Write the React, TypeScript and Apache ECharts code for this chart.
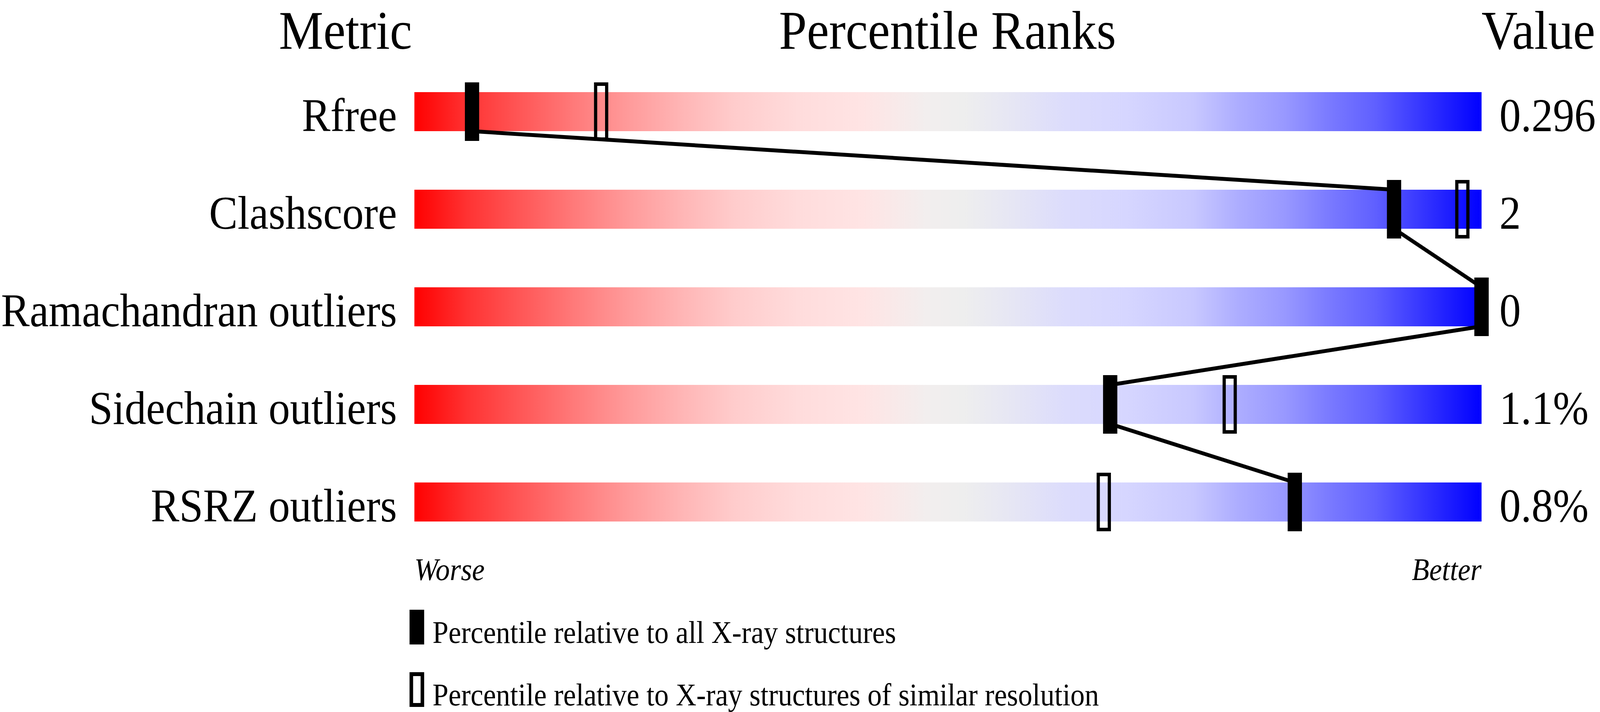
import React, { useEffect, useRef } from 'react';
import * as echarts from 'echarts';

const metrics = ['Rfree', 'Clashscore', 'Ramachandran outliers', 'Sidechain outliers', 'RSRZ outliers'];
const valueLabels = ['0.296', '2', '0', '1.1%', '0.8%'];
const absolutePercentiles = [5.4, 91.8, 100, 65.2, 82.5];
const relativePercentiles = [17.5, 98.2, 100, 76.4, 64.6];
const fullScale = [100, 100, 100, 100, 100];
const headerTexts = ['Metric', 'Percentile Ranks', 'Value'];
const scaleEnds = ['Worse', 'Better'];
const legendNames = [
  'Percentile relative to all X-ray structures',
  'Percentile relative to X-ray structures of similar resolution',
];
const gradientStops: [number, string][] = [
  [0.0, '#ff0000'],
  [0.05, '#ff3333'],
  [0.09, '#ff5050'],
  [0.15, '#ff7a7a'],
  [0.2, '#ff9a9a'],
  [0.25, '#ffb5b5'],
  [0.3, '#ffcccc'],
  [0.36, '#ffdcdc'],
  [0.42, '#ffe4e4'],
  [0.48, '#f2eeee'],
  [0.515, '#eeeeee'],
  [0.56, '#e6e6f4'],
  [0.61, '#dcdcfc'],
  [0.667, '#d6d6ff'],
  [0.73, '#c8c8ff'],
  [0.77, '#aeaeff'],
  [0.816, '#9898ff'],
  [0.86, '#7878ff'],
  [0.9, '#6060ff'],
  [0.95, '#3030ff'],
  [1.0, '#0000ff'],
];

const SERIF = "'Liberation Serif', 'Times New Roman', serif";
const BAR_THICK = 100;
const DESIGN_W = 4485;
const DESIGN_H = 1824;

export default function App() {
  const ref = useRef<HTMLDivElement>(null);
  const vw = typeof window !== 'undefined' ? window.innerWidth : DESIGN_W;
  const vh = typeof window !== 'undefined' ? window.innerHeight : DESIGN_H;
  const sx = vw / DESIGN_W;
  const sy = vh / DESIGN_H;

  useEffect(() => {
    if (!ref.current) return;
    const chart = echarts.init(ref.current, undefined, { renderer: 'svg' });
    const headerFont = `140px ${SERIF}`;
    const legendFont = `80px ${SERIF}`;
    const option: any = {
      animation: false,
      backgroundColor: '#ffffff',
      grid: { left: 1153, right: 332, top: 161, bottom: 413, containLabel: false },
      xAxis: {
        type: 'value',
        min: 0,
        max: 100,
        interval: 100,
        axisLine: { show: false },
        axisTick: { show: false },
        splitLine: { show: false },
        axisLabel: {
          show: true,
          margin: 8,
          color: '#000',
          fontFamily: SERIF,
          fontStyle: 'italic',
          fontSize: 80,
          lineHeight: 80,
          alignMinLabel: 'left',
          alignMaxLabel: 'right',
          formatter: (v: number) => (v === 0 ? scaleEnds[0] : v === 100 ? scaleEnds[1] : ''),
        },
      },
      yAxis: [
        {
          type: 'category',
          data: metrics,
          inverse: true,
          position: 'left',
          axisLine: { show: false },
          axisTick: { show: false },
          splitLine: { show: false },
          axisLabel: {
            margin: 49,
            color: '#000',
            fontFamily: SERIF,
            fontSize: 120,
            verticalAlign: 'top',
            lineHeight: 19,
          },
        },
        {
          type: 'category',
          data: valueLabels,
          inverse: true,
          position: 'right',
          axisLine: { show: false },
          axisTick: { show: false },
          splitLine: { show: false },
          axisLabel: {
            margin: 50,
            color: '#000',
            fontFamily: SERIF,
            fontSize: 120,
            verticalAlign: 'top',
            lineHeight: 19,
          },
        },
      ],
      graphic: [
        {
          type: 'text',
          x: 1155,
          y: 78,
          style: { text: headerTexts[0], font: headerFont, fill: '#000', textAlign: 'right', textVerticalAlign: 'middle' },
        },
        {
          type: 'text',
          x: 2656,
          y: 78,
          style: { text: headerTexts[1], font: headerFont, fill: '#000', textAlign: 'center', textVerticalAlign: 'middle' },
        },
        {
          type: 'text',
          x: 4153,
          y: 78,
          style: { text: headerTexts[2], font: headerFont, fill: '#000', textAlign: 'left', textVerticalAlign: 'middle' },
        },
        {
          type: 'rect',
          shape: { x: 1148, y: 1562, width: 41, height: 89 },
          style: { fill: '#000' },
        },
        {
          type: 'text',
          x: 1212.5,
          y: 1620,
          style: { text: legendNames[0], font: legendFont, fill: '#000', textAlign: 'left', textVerticalAlign: 'middle' },
        },
        {
          type: 'rect',
          shape: { x: 1153, y: 1727, width: 31, height: 79 },
          style: { fill: 'none', stroke: '#000', lineWidth: 10 },
        },
        {
          type: 'text',
          x: 1212.5,
          y: 1780,
          style: { text: legendNames[1], font: legendFont, fill: '#000', textAlign: 'left', textVerticalAlign: 'middle' },
        },
      ],
      series: [
        {
          name: 'scale',
          type: 'bar',
          data: fullScale,
          barWidth: BAR_THICK,
          silent: true,
          z: 1,
          itemStyle: {
            color: {
              type: 'linear',
              x: 0,
              y: 0,
              x2: 1,
              y2: 0,
              colorStops: gradientStops.map(([offset, color]) => ({ offset, color })),
            },
          },
        },
        {
          name: 'connector',
          type: 'custom',
          coordinateSystem: 'cartesian2d',
          silent: true,
          z: 3,
          data: absolutePercentiles.slice(0, -1).map((p, i) => [p, i, absolutePercentiles[i + 1], i + 1]),
          renderItem: (_params: any, api: any) => {
            const a = api.coord([api.value(0), api.value(1)]);
            const b = api.coord([api.value(2), api.value(3)]);
            return {
              type: 'line',
              shape: { x1: a[0], y1: a[1] + BAR_THICK / 2, x2: b[0], y2: b[1] - BAR_THICK / 2 },
              style: { stroke: '#000', lineWidth: 10, fill: null },
            };
          },
        },
        {
          name: legendNames[1],
          type: 'custom',
          coordinateSystem: 'cartesian2d',
          silent: true,
          z: 4,
          data: relativePercentiles.map((p, i) => [p, i]),
          renderItem: (_params: any, api: any) => {
            const c = api.coord([api.value(0), api.value(1)]);
            return {
              type: 'rect',
              shape: { x: c[0] - 15.5, y: c[1] - 70.5, width: 31, height: 141 },
              style: { stroke: '#000', lineWidth: 9, fill: 'none' },
            };
          },
        },
        {
          name: legendNames[0],
          type: 'scatter',
          symbol: 'rect',
          symbolSize: [40, 150],
          silent: true,
          z: 5,
          data: absolutePercentiles.map((p, i) => [p, i]),
          itemStyle: { color: '#000', opacity: 1 },
        },
      ],
    };
    chart.setOption(option);
    return () => chart.dispose();
  }, []);

  return (
    <div style={{ position: 'fixed', left: 0, top: 0, width: '100vw', height: '100vh', overflow: 'hidden', background: '#fff' }}>
      <div
        ref={ref}
        style={{
          position: 'absolute',
          left: 0,
          top: 0,
          width: `${DESIGN_W}px`,
          height: `${DESIGN_H}px`,
          transformOrigin: '0 0',
          transform: `scale(${sx}, ${sy})`,
        }}
      />
    </div>
  );
}
